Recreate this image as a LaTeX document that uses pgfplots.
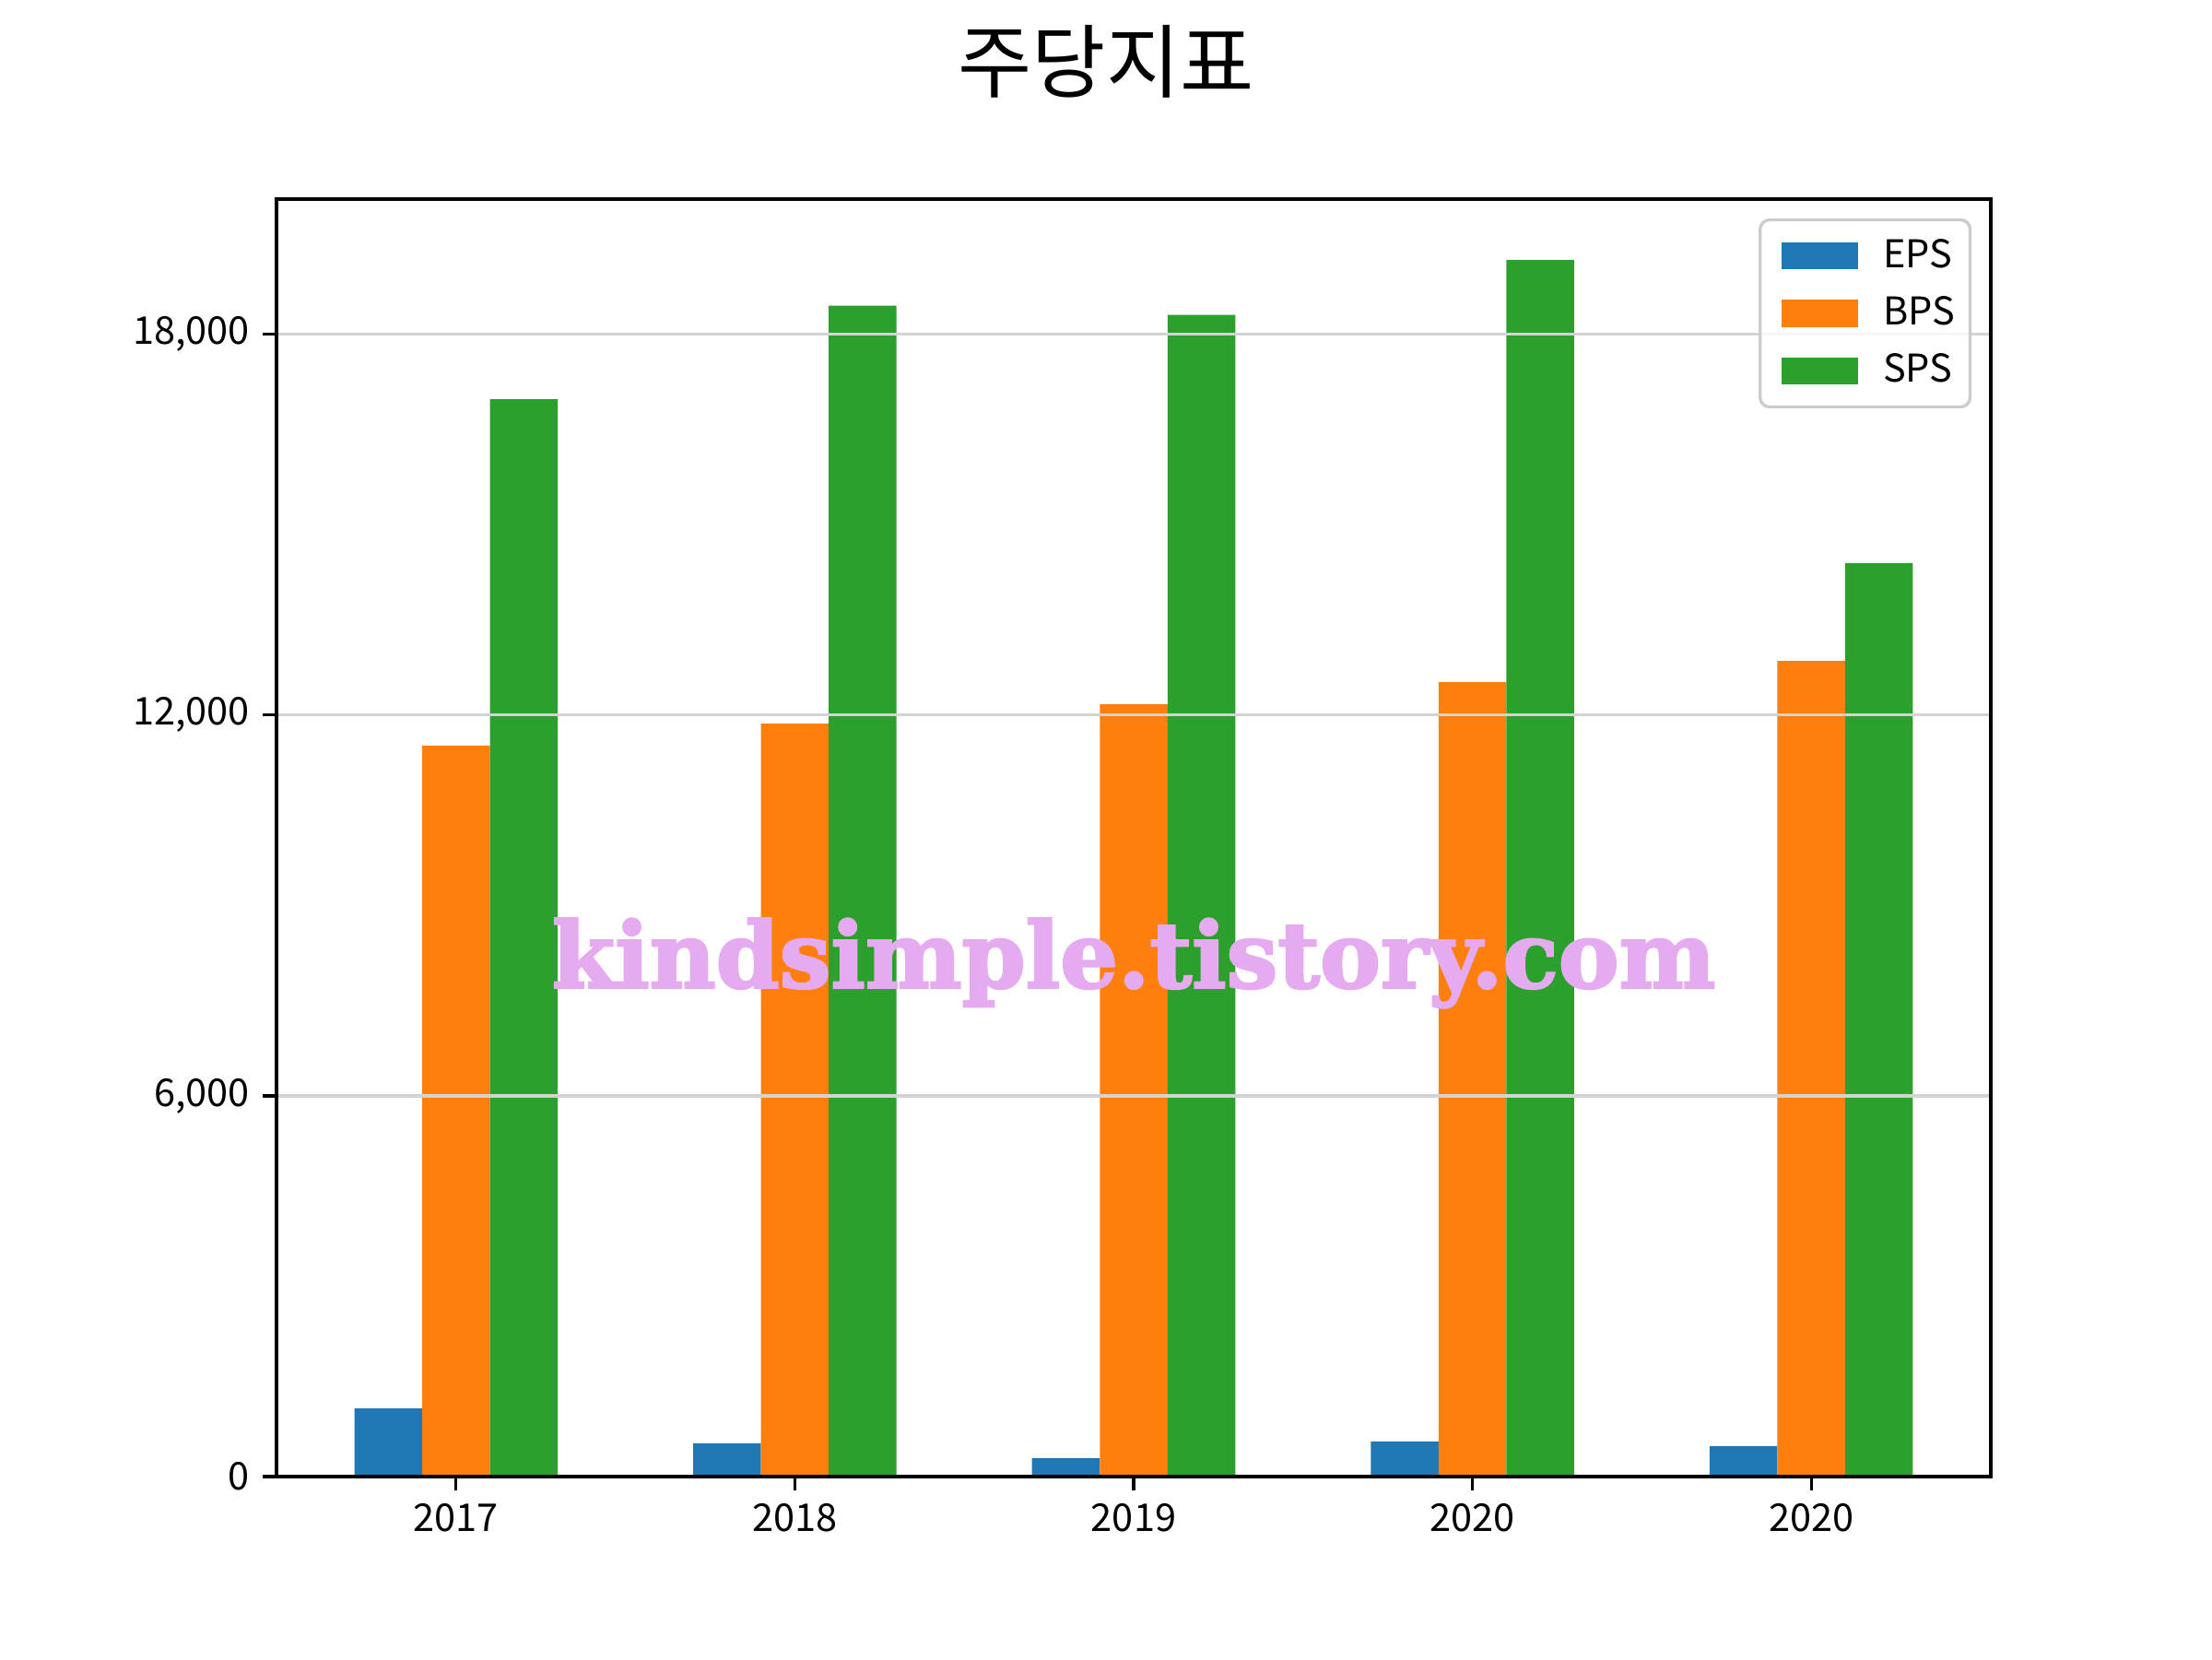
\documentclass[border=0pt]{standalone}
\usepackage{fontspec}
\setmainfont{Noto Sans CJK KR}
\newfontfamily\wmfont[BoldFeatures={FakeBold=2.5}]{DejaVu Serif}
\usepackage{graphicx}
\usepackage{pgfplots}
\pgfplotsset{compat=1.18}
\definecolor{tabblue}{HTML}{1F77B4}
\definecolor{taborange}{HTML}{FF7F0E}
\definecolor{tabgreen}{HTML}{2CA02C}
\definecolor{gridgray}{RGB}{211,211,211}
\definecolor{legedge}{RGB}{204,204,204}
\definecolor{wmcolor}{RGB}{229,170,239}
\pgfplotsset{
  mplbar/.style={legend image code/.code={\path (-2bp,0bp) (20bp,0bp);\fill[##1, sharp corners, fill opacity=1] (1bp,-3.5bp) rectangle (21bp,3.5bp);}},
}
\begin{document}
\begin{tikzpicture}
\begin{axis}[
  at={(72bp,47.52bp)}, anchor=south west,
  scale only axis, width=446.4bp, height=332.64bp,
  xmin=-0.53, xmax=4.53, ymin=0, ymax=20131,
  xtick={0,1,2,3,4},
  xticklabels={2017,2018,2019,2020,2020},
  ytick={0,6000,12000,18000},
  /pgf/number format/.cd, 1000 sep={,}, assume math mode=true, /pgfplots/.cd,
  scaled y ticks=false,
  tick pos=left, tick align=outside,
  major tick length=3.5bp,
  tick style={line width=0.8bp, black},
  axis line style={line width=0.8bp, black},
  ymajorgrids, grid style={line width=0.8bp, gridgray},
  axis on top,
  ticklabel style={font=\fontsize{10}{12}\selectfont},
  legend style={at={(1,1)}, anchor=north east, xshift=-5bp, yshift=-5bp,
    draw=legedge, line width=0.8bp, rounded corners=2.5bp, fill=white, fill opacity=0.8, text opacity=1,
    font=\fontsize{10}{12}\selectfont, inner xsep=2.5bp, inner ysep=3bp, row sep=2bp,
    nodes={inner xsep=1.5bp},
    /tikz/every odd column/.style={column sep=5bp}},
  legend cell align=left,
]
\addplot[mplbar, ybar, bar width=0.2, fill=tabblue, draw=none] coordinates {(-0.2,1075) (0.8,523) (1.8,290) (2.8,552) (3.8,479)};
\addlegendentry{EPS}
\addplot[mplbar, ybar, bar width=0.2, fill=taborange, draw=none] coordinates {(0,11518) (1,11866) (2,12171) (3,12520) (4,12854)};
\addlegendentry{BPS}
\addplot[mplbar, ybar, bar width=0.2, fill=tabgreen, draw=none] coordinates {(0.2,16979) (1.2,18450) (2.2,18305) (3.2,19172) (4.2,14394)};
\addlegendentry{SPS}
\node[inner sep=0pt, text=wmcolor] at (axis cs:2,8090) {\wmfont\bfseries\resizebox{303bp}{!}{kindsimple.tistory.com}};
\end{axis}
\node[font=\fontsize{21}{25}\selectfont] at (288bp,416bp) {주당지표};
\pgfresetboundingbox
\path (0,0) rectangle (576bp,432bp);
\end{tikzpicture}
\end{document}
